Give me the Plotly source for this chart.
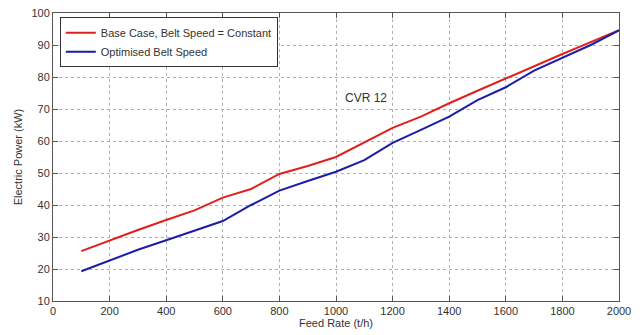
import plotly.graph_objects as go

feed = [100, 200, 300, 400, 500, 600, 700, 800, 900, 1000, 1100, 1200, 1300, 1400, 1500, 1600, 1700, 1800, 1900, 2000]
base_case = [25.6, 29.0, 32.2, 35.3, 38.3, 42.3, 45.0, 49.7, 52.2, 55.0, 59.5, 64.1, 67.6, 71.8, 75.7, 79.6, 83.5, 87.2, 90.9, 94.6]
optimised = [19.3, 22.7, 26.0, 29.0, 32.0, 35.0, 40.0, 44.5, 47.5, 50.4, 54.0, 59.4, 63.5, 67.6, 72.8, 76.8, 82.0, 86.0, 90.0, 94.6]
x_ticks = [0, 200, 400, 600, 800, 1000, 1200, 1400, 1600, 1800, 2000]
y_ticks = [10, 20, 30, 40, 50, 60, 70, 80, 90, 100]

fig = go.Figure()
fig.add_trace(go.Scatter(x=feed, y=base_case, mode="lines", name="Base Case, Belt Speed = Constant",
                         line=dict(color="#e0201c", width=2)))
fig.add_trace(go.Scatter(x=feed, y=optimised, mode="lines", name="Optimised Belt Speed",
                         line=dict(color="#1c1ca8", width=2)))

axis_common = dict(showline=True, linecolor="#555555", linewidth=1, mirror="ticks",
                   ticks="inside", ticklen=5, tickcolor="#555555", automargin=False,
                   ticklabeloverflow="allow",
                   showgrid=True, gridcolor="#b0b0b0", griddash="dot", gridwidth=1,
                   zeroline=False, tickfont=dict(family="Liberation Sans", size=11, color="#333333"))

fig.update_xaxes(range=[0, 2000], tickvals=x_ticks, ticktext=[str(v) for v in x_ticks],
                 title=dict(text="Feed Rate (t/h)", font=dict(family="Liberation Sans", size=11, color="#333333"), standoff=2),
                 **axis_common)
fig.update_yaxes(range=[10, 100], tickvals=y_ticks, ticktext=[str(v) for v in y_ticks],
                 title=dict(text="Electric Power (kW)", font=dict(family="Liberation Sans", size=11, color="#333333"), standoff=6),
                 **axis_common)

fig.add_annotation(x=1025, y=73.5, text="CVR 12", showarrow=False, xanchor="left", yanchor="middle",
                   font=dict(family="Liberation Sans", size=12, color="#333333"))

# the page body adds an 8px offset, so the figure is sized to fit the 644x335 window
fig.update_layout(
    width=636, height=327,
    margin=dict(l=45, r=25, t=5, b=34),
    paper_bgcolor="white", plot_bgcolor="white",
    legend=dict(x=0.012, y=0.985, xanchor="left", yanchor="top",
                bgcolor="white", bordercolor="#333333", borderwidth=1,
                font=dict(family="Liberation Sans", size=11, color="#333333"),
                tracegroupgap=0, itemwidth=30),
)

fig.write_html("out.html")
